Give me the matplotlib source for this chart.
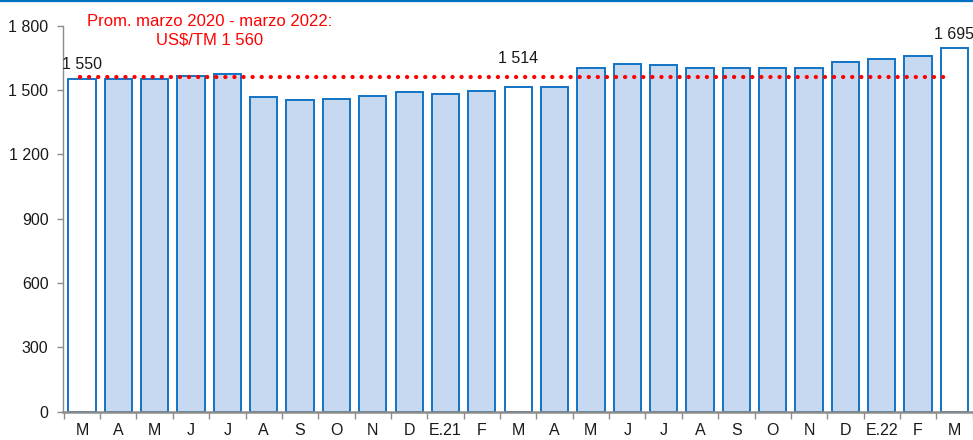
import matplotlib
matplotlib.use("Agg")
import matplotlib.pyplot as plt
from matplotlib.lines import Line2D
from matplotlib.ticker import FixedLocator, FuncFormatter

plt.rcParams["font.family"] = ["Liberation Sans", "DejaVu Sans"]

# ── Data: monthly price, Mar 2020 - Mar 2022 (US$/TM) ──────────────
MONTHS = ["M", "A", "M", "J", "J", "A", "S", "O", "N", "D", "E.21", "F",
          "M", "A", "M", "J", "J", "A", "S", "O", "N", "D", "E.22", "F", "M"]
PRICES = [1550, 1550, 1550, 1565, 1577, 1468, 1453, 1456, 1472, 1492, 1483, 1497,
          1514, 1516, 1604, 1622, 1619, 1604, 1601, 1601, 1601, 1632, 1647, 1660, 1695]
HIGHLIGHT = [0, 12, 24]          # bars drawn white and labelled
LABEL_Y = [1582, 1612, 1722]     # y positions of the value labels
AVERAGE = 1560

BLUE = "#1273C4"
FILL = "#C6D9F0"
GRAY = "#8C8C8C"


def fmt(v, _=None):
    return f"{int(v):,}".replace(",", " ")


fig = plt.figure(figsize=(9.73, 4.4), dpi=100)
ax = fig.add_axes([0.0648, 0.0643, 0.9352, 0.8773])

x = list(range(len(MONTHS)))
colors = ["white" if i in HIGHLIGHT else FILL for i in x]
ax.bar(x, PRICES, width=0.75, color=colors, edgecolor=BLUE, linewidth=1.4, zorder=2)

# average line (dotted red)
ax.plot([-0.05, 23.9], [AVERAGE, AVERAGE], color="#FF0000", lw=3.1,
        linestyle=(0, (0.01, 2.1)), dash_capstyle="round", zorder=3)
ax.text(3.52, 1776, "Prom. marzo 2020 - marzo 2022:\nUS$/TM " + fmt(AVERAGE),
        color="#FF0000", fontsize=12, ha="center", va="center",
        linespacing=1.3, clip_on=False)

for i, ly in zip(HIGHLIGHT, LABEL_Y):
    ax.text(i, ly, fmt(PRICES[i]), fontsize=11.5, ha="center", va="bottom",
            color="#1a1a1a", clip_on=False)

ax.set_xlim(-0.52, 24.51)
ax.set_ylim(0, 1800)
ax.set_yticks(range(0, 1801, 300))
ax.yaxis.set_major_formatter(FuncFormatter(fmt))
ax.set_xticks(x)
ax.set_xticklabels(MONTHS)
ax.xaxis.set_minor_locator(FixedLocator([i - 0.5 for i in range(len(MONTHS) + 1)]))
ax.tick_params(axis="x", which="major", length=0, pad=8, labelsize=11.5, colors="#1a1a1a")
ax.tick_params(axis="x", which="minor", length=5, width=1, color=GRAY)
ax.tick_params(axis="y", length=4.5, width=1, color=GRAY, pad=6,
               labelsize=11.5, labelcolor="#1a1a1a")

for s in ["top", "right"]:
    ax.spines[s].set_visible(False)
ax.spines["left"].set_color(GRAY)
ax.spines["left"].set_linewidth(1)
ax.spines["bottom"].set_color(GRAY)
ax.spines["bottom"].set_linewidth(1.8)

# blue rule along the top edge
fig.add_artist(Line2D([0, 1], [0.997, 0.997], color="#0070C0", lw=1.6,
                      transform=fig.transFigure))

fig.savefig("out.png", dpi=100)
